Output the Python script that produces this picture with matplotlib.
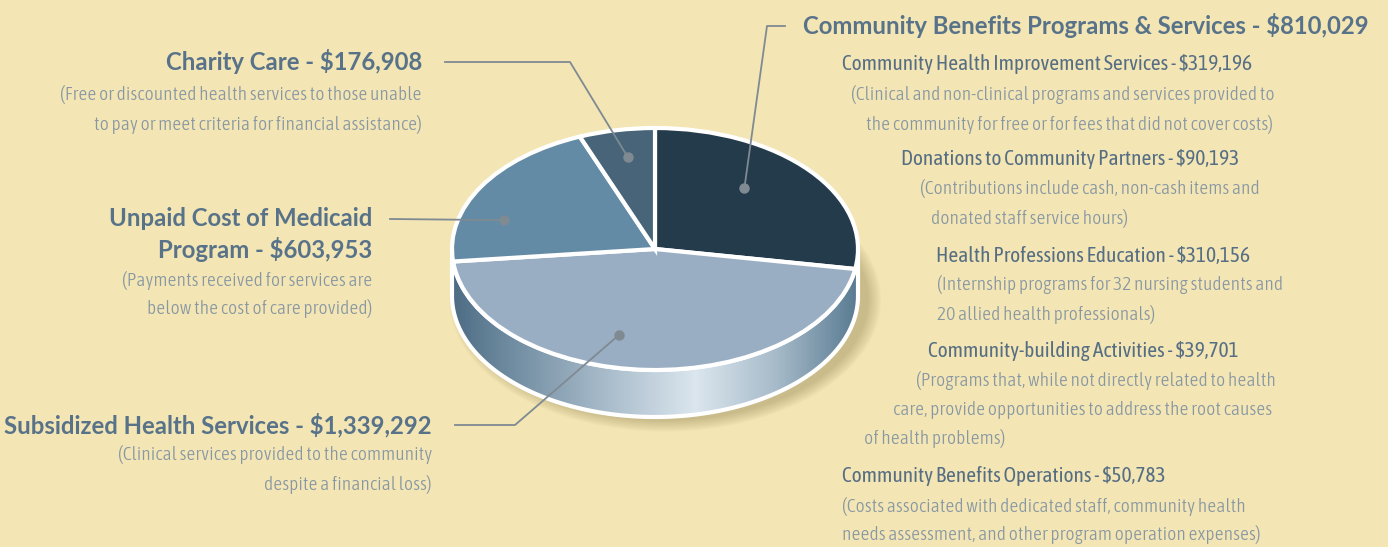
import os
import numpy as np
import matplotlib.pyplot as plt
import matplotlib.font_manager as fm
from matplotlib.patches import Polygon, Ellipse
from matplotlib.colors import LinearSegmentedColormap

# ---- data ----
categories = ["Community Benefits Programs & Services", "Subsidized Health Services",
              "Unpaid Cost of Medicaid Program", "Charity Care"]
amounts = [810029, 1339292, 603953, 176908]
slice_colors = ["#243b4c", "#9aaec3", "#638ba5", "#476479"]

# sub-items of community benefits
sub_items = ["Community Health Improvement Services", "Donations to Community Partners",
             "Health Professions Education", "Community-building Activities",
             "Community Benefits Operations"]
sub_amounts = [319196, 90193, 310156, 39701, 50783]


def money(v):
    return "${:,}".format(v)


BG = "#f3e5b4"
HEAD = "#587389"
SUB = "#566e84"
DESC = "#8797a3"
LINE = "#7f8a93"


def face(files, family, weight="normal"):
    for name in files:
        for f in fm.fontManager.ttflist:
            if os.path.basename(f.fname) == name:
                return fm.FontProperties(fname=f.fname)
    return fm.FontProperties(family=family, weight=weight)


head_fp = face(["Asap-Bold.ttf", "Lato-Bold.ttf", "Asap-SemiBold.ttf"], "Lato", "bold")
sub_fp = face(["AsapCondensed-Regular.ttf"], "DejaVu Sans")
desc_fp = face(["AsapCondensed-Light.ttf", "AsapCondensed-Regular.ttf"], "DejaVu Sans")

W, H = 1388, 547
fig = plt.figure(figsize=(W / 100, H / 100), dpi=100)
fig.patch.set_facecolor(BG)

# pie geometry in pixels
cx, cy, rx, ry, depth = 655, 249, 203, 121, 47
pad_x, pad_top, pad_bot = 1.3, 1.15, 1.75
pax = fig.add_axes([(cx - pad_x * rx) / W, 1 - (cy + pad_bot * ry) / H,
                    2 * pad_x * rx / W, (pad_top + pad_bot) * ry / H])
d = depth / ry

# soft shadow under the pie
for i in range(10):
    pax.add_patch(Ellipse((0.05, -d - 0.03), 2.0 + 0.014 * i, 2.0 + 0.02 * i,
                          color="#6e5c2c", alpha=0.03, lw=0, zorder=0))

# side band of the cylinder
t = np.linspace(np.pi, 2 * np.pi, 200)
band = np.vstack([np.column_stack([np.cos(t), np.sin(t)]),
                  np.column_stack([np.cos(t[::-1]), np.sin(t[::-1]) - d])])
side = Polygon(band, closed=True, facecolor="none", edgecolor="white", lw=3, zorder=3)
pax.add_patch(side)
side_cmap = LinearSegmentedColormap.from_list(
    "side", [(0, "#4d6c84"), (0.12, "#6a879c"), (0.38, "#a9bccb"),
             (0.6, "#dbe6ee"), (0.8, "#a6bac9"), (1.0, "#587a91")])
grad = np.linspace(0, 1, 256).reshape(1, -1)
img = pax.imshow(grad, extent=(-1, 1, -1 - d, 0.05), cmap=side_cmap, aspect="auto", zorder=2)
img.set_clip_path(side)

wedges, _ = pax.pie(amounts, colors=slice_colors, startangle=90, counterclock=False,
                    wedgeprops=dict(edgecolor="white", linewidth=3, zorder=4))
pax.set_aspect("auto")
pax.set_xlim(-pad_x, pad_x)
pax.set_ylim(-pad_bot, pad_top)
pax.axis("off")

# overlay for text and leaders, in pixel coordinates
oax = fig.add_axes([0, 0, 1, 1])
oax.set_xlim(0, W)
oax.set_ylim(H, 0)
oax.axis("off")
oax.patch.set_visible(False)

# label anchor inside each wedge: (fraction along wedge, radius)
anchors = [(0.587, 0.67), (0.426, 0.73), (0.68, 0.78), (0.46, 0.77)]
elbows = [[(785, 26), (767, 26)], [(455, 425), (515, 425)], [(390, 219)], [(445, 62), (570, 62)]]
for w, (f, r), pts in zip(wedges, anchors, elbows):
    a = np.deg2rad(w.theta1 + f * (w.theta2 - w.theta1))
    dx, dy = pax.transData.transform((r * np.cos(a), r * np.sin(a)))
    dot = (dx, H - dy)
    xs = [p[0] for p in pts] + [dot[0]]
    ys = [p[1] for p in pts] + [dot[1]]
    oax.plot(xs, ys, color=LINE, lw=1.3, zorder=5)
    oax.plot(dot[0], dot[1], "o", color=LINE, ms=6.5, zorder=6)

renderer = fig.canvas.get_renderer()


def fit_size(s, target_px, fp):
    probe = oax.text(0, 0, s, fontproperties=fp, fontsize=10)
    wpx = probe.get_window_extent(renderer).width
    probe.remove()
    return 10 * target_px / wpx


head_size = fit_size("Community Benefits Programs & Services - $810,029", 567, head_fp)
desc_size = fit_size("(Free or discounted health services to those unable", 359, desc_fp)
sub_size = fit_size("Community Health Improvement Services - $319,196", 410, sub_fp)

bold = dict(fontproperties=head_fp, fontsize=head_size, color=HEAD, va="center")
subf = dict(fontproperties=sub_fp, fontsize=sub_size, color=SUB, va="center")
desc = dict(fontproperties=desc_fp, fontsize=desc_size, color=DESC, va="center")

# left side labels
oax.text(422, 62, f"{categories[3]} - {money(amounts[3])}", ha="right", **bold)
oax.text(422, 95, "(Free or discounted health services to those unable", ha="right", **desc)
oax.text(422, 125, "to pay or meet criteria for financial assistance)", ha="right", **desc)

oax.text(372, 219, "Unpaid Cost of Medicaid", ha="right", **bold)
oax.text(372, 250, f"Program - {money(amounts[2])}", ha="right", **bold)
oax.text(372, 280, "(Payments received for services are", ha="right", **desc)
oax.text(372, 308, "below the cost of care provided)", ha="right", **desc)

oax.text(432, 425, f"{categories[1]} - {money(amounts[1])}", ha="right", **bold)
oax.text(432, 455, "(Clinical services provided to the community", ha="right", **desc)
oax.text(432, 484, "despite a financial loss)", ha="right", **desc)

# right side labels
oax.text(803, 25, f"{categories[0]} - {money(amounts[0])}", ha="left", **bold)

sub_title_pos = [(842, 64), (901, 159), (936, 256), (928, 351), (842, 476)]
sub_desc = [
    [(851, 94, "(Clinical and non-clinical programs and services provided to"),
     (866, 124, "the community for free or for fees that did not cover costs)")],
    [(920, 188, "(Contributions include cash, non-cash items and"),
     (931, 218, "donated staff service hours)")],
    [(937, 285, "(Internship programs for 32 nursing students and"),
     (937, 314, "20 allied health professionals)")],
    [(916, 381, "(Programs that, while not directly related to health"),
     (893, 410, "care, provide opportunities to address the root causes"),
     (864, 439, "of health problems)")],
    [(842, 506, "(Costs associated with dedicated staff, community health"),
     (842, 534, "needs assessment, and other program operation expenses)")],
]
for name, val, (x, y), lines in zip(sub_items, sub_amounts, sub_title_pos, sub_desc):
    oax.text(x, y, f"{name} - {money(val)}", ha="left", **subf)
    for lx, ly, s in lines:
        oax.text(lx, ly, s, ha="left", **desc)

fig.savefig("out.png", dpi=100, facecolor=BG)
